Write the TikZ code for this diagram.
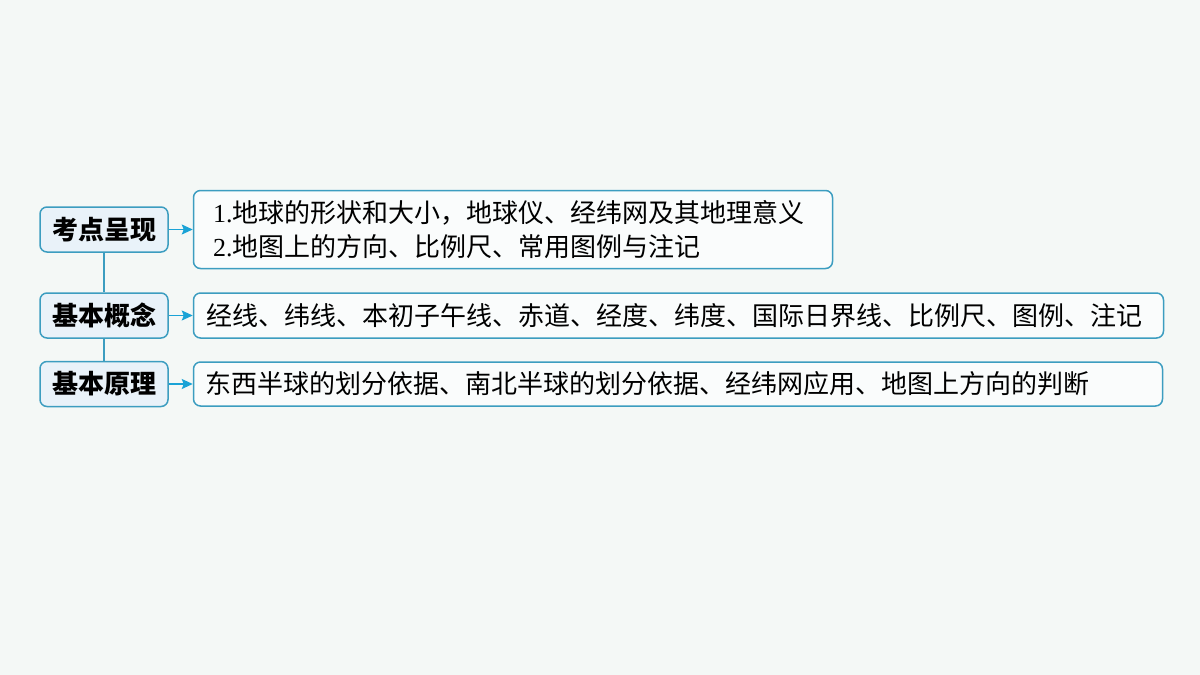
\documentclass[tikz,border=0pt]{standalone}
\usepackage{fontspec}
\setmainfont{Noto Sans CJK SC}
\newfontfamily\digitfont{Liberation Serif}
\usetikzlibrary{arrows.meta, positioning}
\definecolor{bgcol}{HTML}{F4F8F6}
\definecolor{boxline}{HTML}{3C9DC0}
\definecolor{topicfill}{HTML}{E9F2F9}
\definecolor{detailfill}{HTML}{FAFCFC}
\definecolor{arrowcol}{HTML}{1AA3D6}

\begin{document}
\begin{tikzpicture}
            [x=1pt, y=1pt, >={Stealth[length=11pt,width=10pt,inset=2pt]},
            topic/.style={rectangle, rounded corners=7pt, draw=boxline, line width=1.5pt,
                fill=topicfill, minimum width=128pt, minimum height=45pt, inner sep=0pt,
                font=\fontsize{26}{30}\selectfont\bfseries},
            detail/.style={rectangle, rounded corners=7pt, draw=boxline, line width=1.5pt,
                fill=detailfill, align=left, inner ysep=0pt,
                font=\fontsize{26}{34}\selectfont},
            tree/.style={draw=boxline, line width=1.5pt},
            link/.style={->, draw=arrowcol, line width=1.5pt}]

            \fill[bgcol] (0,0) rectangle (1200,-675);
            \useasboundingbox (0,0) rectangle (1200,-675);

            \node[topic] (kd) at (104,-229.5) {考点呈现};
            \node[topic] (gn) at (104,-315.5) {基本概念};
            \node[topic] (yl) at (104,-384) {基本原理};

            \node[detail, minimum height=78pt, text width=600pt, inner xsep=19.5pt]
                (kdr) [right = 24pt of kd]
                {{\digitfont 1.}地球的形状和大小，地球仪、经纬网及其地理意义\\
                 {\digitfont 2.}地图上的方向、比例尺、常用图例与注记};
            \node[detail, minimum height=45pt, text width=944pt, inner xsep=13pt]
                (gnr) [right = 24pt of gn]
                {经线、纬线、本初子午线、赤道、经度、纬度、国际日界线、比例尺、图例、注记};
            \node[detail, minimum height=44pt, text width=945pt, inner xsep=12pt]
                (ylr) [right = 24pt of yl]
                {东西半球的划分依据、南北半球的划分依据、经纬网应用、地图上方向的判断};

            \draw[tree] (kd) -- (gn);
            \draw[tree] (gn) -- (yl);

            \draw[link] (kd) -- (kdr);
            \draw[link] (gn) -- (gnr);
            \draw[link] (yl) -- (ylr);

\end{tikzpicture}
\end{document}
